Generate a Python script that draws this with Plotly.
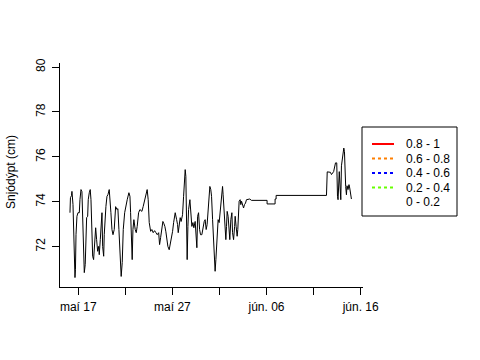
import plotly.graph_objects as go
import pandas as pd

# ---------------- data ----------------
start_date = "2015-05-17"  # day offset 0 = maí 17

day_offset = [
    -0.88, -0.83, -0.72, -0.67, -0.56, -0.46, -0.35, -0.30, -0.24, -0.14,
    -0.03, 0.11, 0.18, 0.29, 0.39, 0.47, 0.53, 0.64, 0.74, 0.89,
    1.00, 1.06, 1.17, 1.27, 1.35, 1.45, 1.53, 1.63, 1.74, 1.85,
    1.95, 2.06, 2.17, 2.23, 2.34, 2.44, 2.52, 2.59, 2.70, 2.76,
    2.87, 2.94, 3.05, 3.15, 3.29, 3.37, 3.47, 3.58, 3.69, 3.82,
    3.93, 3.97, 4.11, 4.21, 4.32, 4.43, 4.56, 4.67, 4.78, 4.93,
    5.06, 5.20, 5.38, 5.49, 5.56, 5.63, 5.73, 5.81, 5.91, 6.05,
    6.16, 6.26, 6.41, 6.55, 6.76, 6.90, 7.05, 7.19, 7.32, 7.43,
    7.54, 7.69, 7.82, 7.96, 8.11, 8.25, 8.39, 8.54, 8.64, 8.75,
    8.89, 8.99, 9.10, 9.20, 9.31, 9.42, 9.52, 9.66, 9.77, 9.87,
    10.02, 10.13, 10.23, 10.30, 10.45, 10.55, 10.62, 10.72, 10.83, 10.93,
    11.08, 11.19, 11.30, 11.36, 11.43, 11.51, 11.57, 11.65, 11.72, 11.86,
    11.96, 12.07, 12.18, 12.28, 12.42, 12.53, 12.60, 12.68, 12.78, 12.89,
    12.99, 13.13, 13.24, 13.38, 13.48, 13.59, 13.69, 13.80, 13.91, 13.98,
    14.08, 14.16, 14.27, 14.37, 14.48, 14.54, 14.62, 14.69, 14.76, 14.86,
    14.97, 15.12, 15.22, 15.33, 15.39, 15.50, 15.61, 15.68, 15.75, 15.82,
    15.92, 16.03, 16.10, 16.21, 16.32, 16.39, 16.50, 16.61, 16.67, 16.77,
    16.88, 16.95, 17.03, 17.09, 17.20, 17.27, 17.35, 17.45, 17.56, 17.66,
    17.77, 17.87, 18.04, 18.22, 18.40, 19.29, 20.06, 20.06, 20.91, 20.91,
    21.02, 21.02, 26.37, 26.45, 26.79, 26.90, 27.13, 27.33, 27.46, 27.54,
    27.60, 27.73, 27.81, 27.89, 27.96, 28.07, 28.15, 28.21, 28.28, 28.34,
    28.41, 28.49, 28.55, 28.66, 28.76, 28.84, 28.94, 29.02,
]

snow_depth = [
    73.51, 74.18, 74.27, 74.46, 73.87, 72.31, 70.62, 70.97, 72.53, 73.35,
    73.51, 73.51, 74.09, 74.54, 74.45, 73.51, 72.01, 70.84, 71.20, 73.29,
    73.35, 74.09, 74.40, 74.54, 74.09, 72.76, 71.57, 71.42, 72.31, 72.84,
    72.31, 71.79, 72.01, 71.64, 72.31, 73.07, 73.51, 72.01, 71.57, 72.53,
    73.51, 73.79, 74.24, 74.31, 74.54, 74.18, 73.51, 72.76, 72.53, 72.76,
    73.73, 73.78, 73.65, 73.69, 72.76, 71.42, 70.67, 71.29, 72.76, 73.51,
    73.87, 74.09, 74.40, 74.24, 73.51, 72.01, 71.42, 72.76, 73.20, 72.76,
    72.62, 72.90, 73.51, 73.65, 73.57, 73.79, 74.09, 74.31, 74.54, 74.09,
    73.07, 72.68, 72.76, 72.62, 72.71, 72.62, 72.53, 72.62, 72.09, 72.40,
    72.90, 73.12, 73.02, 72.90, 72.66, 72.31, 72.01, 71.86, 72.09, 72.40,
    72.68, 73.07, 73.42, 73.51, 73.20, 72.98, 72.62, 73.07, 73.29, 73.12,
    73.42, 74.24, 75.13, 75.43, 75.13, 73.65, 71.42, 72.90, 73.65, 74.09,
    73.65, 72.90, 73.07, 72.84, 73.12, 72.40, 71.95, 73.35, 73.51, 72.76,
    72.53, 72.53, 72.90, 73.12, 73.20, 72.76, 72.98, 73.79, 74.54, 74.68,
    74.54, 74.24, 73.20, 72.18, 71.57, 70.90, 71.42, 72.01, 72.90, 73.20,
    73.07, 73.79, 74.40, 74.68, 74.31, 73.51, 72.76, 72.31, 72.90, 73.57,
    73.35, 72.76, 72.31, 73.20, 73.51, 72.62, 72.31, 72.90, 73.35, 72.90,
    72.46, 72.76, 73.65, 74.02, 74.09, 73.87, 74.02, 73.79, 73.72, 73.87,
    73.94, 74.09, 74.12, 74.12, 74.06, 74.06, 74.06, 73.90, 73.90, 74.12,
    74.12, 74.28, 74.28, 75.33, 75.31, 75.21, 75.34, 75.73, 75.73, 74.24,
    74.09, 75.34, 74.24, 74.09, 75.60, 75.95, 75.96, 76.39, 76.23, 75.28,
    74.68, 74.31, 74.71, 74.54, 74.76, 74.61, 74.31, 74.12,
]

legend_labels = ["0.8 - 1", "0.6 - 0.8", "0.4 - 0.6", "0.2 - 0.4", "0 - 0.2"]
legend_colors = ["#FF0000", "#FF7F00", "#0000FF", "#66FF00", "#FFFFFF"]
legend_dashes = ["solid", "dot", "dot", "dot", "solid"]

y_tick_values = [72, 74, 76, 78, 80]
x_tick_dates = ["2015-05-17", "2015-05-22", "2015-05-27", "2015-06-01",
                "2015-06-06", "2015-06-11", "2015-06-16"]
x_tick_labels = ["maí 17", "", "maí 27", "", "jún. 06", "", "jún. 16"]
y_title = "Snjódýpt (cm)"

# ---------------- figure ----------------
base = pd.Timestamp(start_date)
times = base + pd.to_timedelta(day_offset, unit="D")

W, H = 480, 360
L, R, T, B = 60, 117, 63, 73
pw, ph = W - L - R, H - T - B
FONT = "Liberation Sans, Arial, Helvetica, sans-serif"


def px_x(x):
    return (x - L) / pw


def px_y(y):
    return (H - B - y) / ph


fig = go.Figure()
fig.add_trace(go.Scatter(x=times, y=snow_depth, mode="lines",
                         line=dict(color="black", width=1),
                         showlegend=False, hoverinfo="skip"))

x_lo = base + pd.Timedelta(days=-1.94)
x_hi = base + pd.Timedelta(days=30.25)

fig.update_layout(
    width=W, height=H,
    margin=dict(l=L, r=R, t=T, b=B, pad=0),
    paper_bgcolor="white", plot_bgcolor="white",
    font=dict(family=FONT, size=12, color="black"),
    showlegend=False,
    xaxis=dict(type="date", range=[x_lo, x_hi], showgrid=False, zeroline=False,
               showline=True, linecolor="black", linewidth=1,
               ticks="outside", ticklen=7, tickwidth=1, tickcolor="black",
               tickvals=pd.to_datetime(x_tick_dates), ticktext=x_tick_labels,
               tickfont=dict(size=12), ticklabelstandoff=2),
    yaxis=dict(range=[70.2, 80.18], showgrid=False, zeroline=False,
               showline=True, linecolor="black", linewidth=1,
               ticks="outside", ticklen=7, tickwidth=1, tickcolor="black",
               tickvals=y_tick_values, tickangle=-90,
               tickfont=dict(size=12), ticklabelstandoff=2),
)

# y axis title
fig.add_annotation(text=y_title, xref="paper", yref="paper",
                   x=px_x(11), y=px_y(172), textangle=-90,
                   showarrow=False, xanchor="center", yanchor="middle",
                   font=dict(size=12))

# legend box
shapes = [dict(type="rect", xref="paper", yref="paper",
               x0=px_x(362), x1=px_x(457), y0=px_y(216), y1=px_y(127),
               line=dict(color="black", width=1), fillcolor="white")]
for i, (lab, col, dash) in enumerate(zip(legend_labels, legend_colors, legend_dashes)):
    yy = 144 + 14.5 * i
    shapes.append(dict(type="line", xref="paper", yref="paper",
                       x0=px_x(372), x1=px_x(394), y0=px_y(yy), y1=px_y(yy),
                       line=dict(color=col, width=2, dash=dash)))
    fig.add_annotation(text=lab, xref="paper", yref="paper",
                       x=px_x(404), y=px_y(yy), showarrow=False,
                       xanchor="left", yanchor="middle", font=dict(size=12))
fig.update_layout(shapes=shapes)

fig.write_html("out.html",
               config={"displayModeBar": False, "staticPlot": True},
               post_script="document.body.style.margin='0px';document.body.style.overflow='hidden';")
